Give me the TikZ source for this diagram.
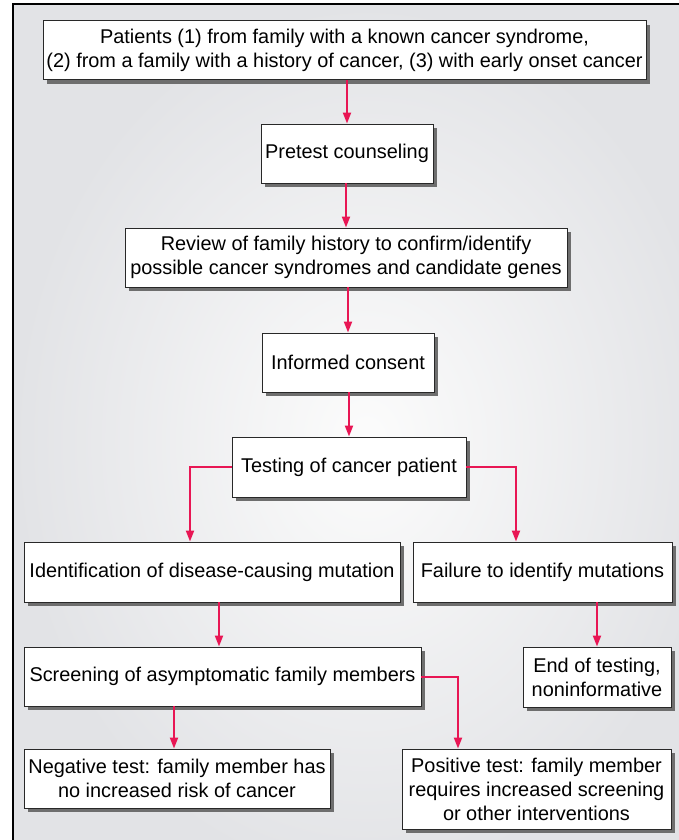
\documentclass[tikz,border=0pt]{standalone}
\usepackage{fontspec}
\setmainfont{Liberation Sans}
\usepackage{tikz}
\usetikzlibrary{arrows.meta,shadows}

\definecolor{flowred}{RGB}{232,22,84}
\definecolor{boxline}{RGB}{40,40,40}
\definecolor{shadowgray}{RGB}{110,110,110}
\definecolor{bginner}{RGB}{252,252,252}
\definecolor{bgouter}{RGB}{226,227,230}

\tikzset{
  box/.style={draw=boxline, fill=white, line width=0.9bp, align=center, inner sep=2bp,
    font=\fontsize{19.9bp}{24bp}\selectfont,
    drop shadow={shadow xshift=4bp, shadow yshift=-4bp, fill=shadowgray, opacity=1}},
  flow/.style={draw=flowred, line width=2bp, -{Triangle[length=11bp,width=8bp]}}
}

\begin{document}
\begin{tikzpicture}[x=1bp,y=-1bp]
\clip (0,0) rectangle (679,840);
% panel behind the chart
\shade[inner color=bginner, outer color=bgouter] (13,4) rectangle (720,880);
\draw[line width=1.3bp] (13,880) -- (13,4) -- (720,4);

\node[box, minimum width=603bp, minimum height=59bp] (patients) at (344.5,50)
  {Patients (1) from family with a known cancer syndrome,\\(2) from a family with a history of cancer, (3) with early onset cancer};
\node[box, minimum width=172bp, minimum height=59bp] (pretest) at (347,153.5) {Pretest counseling};
\node[box, minimum width=442bp, minimum height=59bp] (review) at (346,257.5)
  {Review of family history to confirm/identify\\possible cancer syndromes and candidate genes};
\node[box, minimum width=172bp, minimum height=59bp] (consent) at (348,362.5) {Informed consent};
\node[box, minimum width=234bp, minimum height=60bp] (testing) at (349,467) {Testing of cancer patient};
\node[box, minimum width=376bp, minimum height=60bp] (ident) at (212,572) {Identification of disease-causing mutation};
\node[box, minimum width=259bp, minimum height=60bp] (fail) at (542.5,572) {Failure to identify mutations};
\node[box, minimum width=397bp, minimum height=59bp] (screen) at (222.5,676.5) {Screening of asymptomatic family members};
\node[box, minimum width=148bp, minimum height=60bp] (endt) at (597,677) {End of testing,\\noninformative};
\node[box, minimum width=306bp, minimum height=59bp] (neg) at (177,778.5)
  {Negative test: family member has\\no increased risk of cancer};
\node[box, minimum width=269bp, minimum height=80bp] (pos) at (536.5,789)
  {Positive test: family member\\requires increased screening\\or other interventions};

\foreach \from/\to in {patients/pretest,pretest/review,review/consent,consent/testing}
  \draw[flow] (\to.north |- \from.south) -- (\to.north);
\draw[flow] (testing.west) -| ([xshift=-22bp]ident.north);
\draw[flow] (testing.east) -| ([xshift=-26.5bp]fail.north);
\draw[flow] ([xshift=7bp]ident.south) -- ([xshift=7bp]ident.south |- screen.north);
\draw[flow] (endt.north |- fail.south) -- (endt.north);
\draw[flow] ([xshift=-48.5bp]screen.south) -- ([xshift=-48.5bp]screen.south |- neg.north);
\draw[flow] (screen.east) -| ([xshift=-78.5bp]pos.north);
\end{tikzpicture}
\end{document}
